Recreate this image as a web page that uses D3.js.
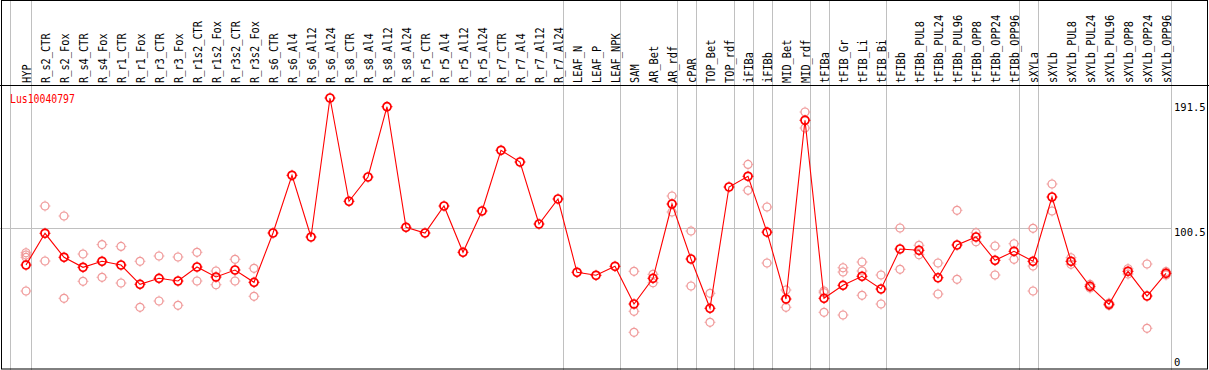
<!DOCTYPE html>
<html>
<head>
<meta charset="utf-8">
<script src="https://cdn.jsdelivr.net/npm/d3@7"></script>
<style>
  body { margin: 0; background: #fff; }
  svg { display: block; }
  text { font-family: "DejaVu Sans Mono", monospace; }
</style>
</head>
<body>
<div id="chart"></div>
<script>
const gene = 'Lus10040797';

const categories = ['HYP', 'R_s2_CTR', 'R_s2_Fox', 'R_s4_CTR', 'R_s4_Fox', 'R_r1_CTR', 'R_r1_Fox',
	'R_r3_CTR', 'R_r3_Fox', 'R_r1s2_CTR', 'R_r1s2_Fox', 'R_r3s2_CTR', 'R_r3s2_Fox',
	'R_s6_CTR', 'R_s6_Al4', 'R_s6_Al12', 'R_s6_Al24', 'R_s8_CTR', 'R_s8_Al4', 'R_s8_Al12', 'R_s8_Al24',
	'R_r5_CTR', 'R_r5_Al4', 'R_r5_Al12', 'R_r5_Al24', 'R_r7_CTR', 'R_r7_Al4', 'R_r7_Al12', 'R_r7_Al24',
	'LEAF_N', 'LEAF_P', 'LEAF_NPK', 'SAM', 'AR_Bet', 'AR_rdf', 'cPAR', 'TOP_Bet', 'TOP_rdf',
	'iFIBa', 'iFIBb', 'MID_Bet', 'MID_rdf', 'tFIBa', 'tFIB_Gr', 'tFIB_Li', 'tFIB_Bi',
	'tFIBb', 'tFIBb_PUL8', 'tFIBb_PUL24', 'tFIBb_PUL96', 'tFIBb_OPP8', 'tFIBb_OPP24', 'tFIBb_OPP96',
	'sXYLa', 'sXYLb', 'sXYLb_PUL8', 'sXYLb_PUL24', 'sXYLb_PUL96', 'sXYLb_OPP8', 'sXYLb_OPP24', 'sXYLb_OPP96'];

// number of samples in each tissue group (grey separators drawn after each)
const groupSizes = [1, 28, 3, 3, 1, 2, 1, 1, 2, 1, 3, 7, 1, 7];

const means = [74.6, 96.8, 80.0, 73.0, 77.2, 74.6, 61.1, 65.3, 63.4, 73.2, 66.2, 71.1, 62.5,
	97.0, 137.4, 94.2, 191.5, 119.2, 136.2, 185.4, 101.0, 97.0, 115.9, 83.5, 112.4, 154.9, 146.7, 103.3, 120.8,
	69.5, 67.4, 73.7, 47.3, 65.3, 117.3, 78.8, 44.3, 129.2, 136.7, 97.6, 50.8, 175.9,
	51.3, 60.4, 66.7, 57.8, 85.8, 84.9, 65.7, 88.6, 94.2, 77.9, 84.2,
	77.2, 122.2, 77.2, 59.7, 47.1, 70.2, 52.9, 68.8];

const replicates = [
	[83.2, 81.6, 80.0, 56.4], [115.9, 77.4], [108.9, 51.3], [82.3, 63.2], [88.9, 66.0], [87.6, 62.0],
	[77.2, 45.0], [80.9, 49.4], [80.2, 46.4], [83.5, 63.4], [70.4, 60.8], [78.6, 63.4], [72.3, 52.7],
	[], [], [], [], [], [], [], [], [], [], [], [], [], [], [], [],
	[], [], [],
	[70.2, 42.2, 27.5], [68.1, 62.2], [122.9, 111.7], [98.4, 59.9], [54.8, 34.5], [],
	[145.0, 126.9], [115.2, 76.0], [57.1, 45.0], [181.7, 170.5],
	[56.4, 55.2, 41.5], [72.7, 69.7, 39.6], [76.7, 70.4, 53.4], [67.6, 47.3],
	[100.5, 71.6], [88.4, 81.8], [76.0, 54.3], [112.9, 64.6], [97.2, 90.9], [87.9, 67.6], [89.5, 78.6],
	[100.3, 73.9, 56.4], [131.3, 112.4], [79.7, 75.1], [61.0, 58.5], [48.0, 46.3], [72.0, 68.3],
	[75.3, 30.3], [70.0, 67.6]
];

const yTicks = [191.5, 100.5, 0];
const refLine = 100.5;

const width = 1209;
const height = 370;
const headerBottom = 85;

const svg = d3.select('#chart')
	.append('svg')
	.attr('width', width)
	.attr('height', height);

svg.append('rect').attr('width', width).attr('height', height).attr('fill', '#fff');

const x = d3.scalePoint()
	.domain(categories)
	.range([26, 1166]);

const step = x.step();

const y = d3.scaleLinear()
	.domain([0, 191.5])
	.range([371.6, 98]);

const plotRight = x(categories[categories.length - 1]) + 5.5;

// grey separators between tissue groups
let ends = [];
let n = 0;
groupSizes.forEach(s => { n += s; ends.push(n - 1) });
const sepX = [x(categories[0]) - step + 3.5].concat(ends.map(i => Math.round(x(categories[i]) + 5) + 0.5));

svg.append('g')
	.selectAll('line')
	.data(sepX)
	.enter()
	.append('line')
	.attr('x1', d => d).attr('x2', d => d)
	.attr('y1', 0).attr('y2', height)
	.attr('stroke', '#c0c0c0')
	.attr('stroke-width', 1);

svg.append('line')
	.attr('x1', 0).attr('x2', plotRight)
	.attr('y1', Math.round(y(refLine)) + 0.5).attr('y2', Math.round(y(refLine)) + 0.5)
	.attr('stroke', '#c0c0c0');

// frame
svg.append('rect')
	.attr('x', 1.5).attr('y', 0.5)
	.attr('width', width - 3).attr('height', height - 1.5)
	.attr('fill', 'none')
	.attr('stroke', '#000');

svg.append('line')
	.attr('x1', 0).attr('x2', width)
	.attr('y1', headerBottom + 0.5).attr('y2', headerBottom + 0.5)
	.attr('stroke', '#000');

// rotated sample labels
svg.append('g')
	.selectAll('text')
	.data(categories)
	.enter()
	.append('text')
	.attr('transform', d => `translate(${x(d) + 4.5},83) rotate(-90)`)
	.attr('font-size', 12.5)
	.attr('textLength', d => d.length * 6.2)
	.attr('lengthAdjust', 'spacingAndGlyphs')
	.attr('fill', '#000')
	.text(d => d);

// gene title
svg.append('text')
	.attr('x', 10).attr('y', 103)
	.attr('font-size', 12.5)
	.attr('textLength', gene.length * 5.9)
	.attr('lengthAdjust', 'spacingAndGlyphs')
	.attr('fill', '#ff0000')
	.text(gene);

// right value labels
svg.append('g')
	.selectAll('text')
	.data(yTicks)
	.enter()
	.append('text')
	.attr('x', 1174)
	.attr('y', d => Math.min(Math.max(y(d) + 8, 111), 366))
	.attr('font-size', 10.5)
	.attr('fill', '#000')
	.text(d => d);

// replicate points
const repData = [];
replicates.forEach((r, i) => r.forEach(v => repData.push({ cat: categories[i], v: v })));

const tick = 'M0,-5.5V-3.5M0,3.5V5.5M-5.5,0H-3.5M3.5,0H5.5';

const reps = svg.append('g')
	.selectAll('g')
	.data(repData)
	.enter()
	.append('g')
	.attr('transform', d => `translate(${x(d.cat)},${y(d.v)})`)
	.attr('stroke', '#f09a9a')
	.attr('fill', 'none');

reps.append('circle').attr('r', 4).attr('stroke-width', 1.2);
reps.append('path').attr('d', tick).attr('stroke-width', 0.8);

// mean line
svg.append('path')
	.datum(means)
	.attr('fill', 'none')
	.attr('stroke', '#ff0000')
	.attr('stroke-width', 1.1)
	.attr('d', d3.line().x((d, i) => x(categories[i])).y(d => y(d)));

const pts = svg.append('g')
	.selectAll('g')
	.data(means)
	.enter()
	.append('g')
	.attr('transform', (d, i) => `translate(${x(categories[i])},${y(d)})`)
	.attr('stroke', '#ff0000')
	.attr('fill', 'none');

pts.append('circle').attr('r', 4).attr('stroke-width', 1.7);
pts.append('path').attr('d', tick).attr('stroke-width', 1);
</script>
</body>
</html>
